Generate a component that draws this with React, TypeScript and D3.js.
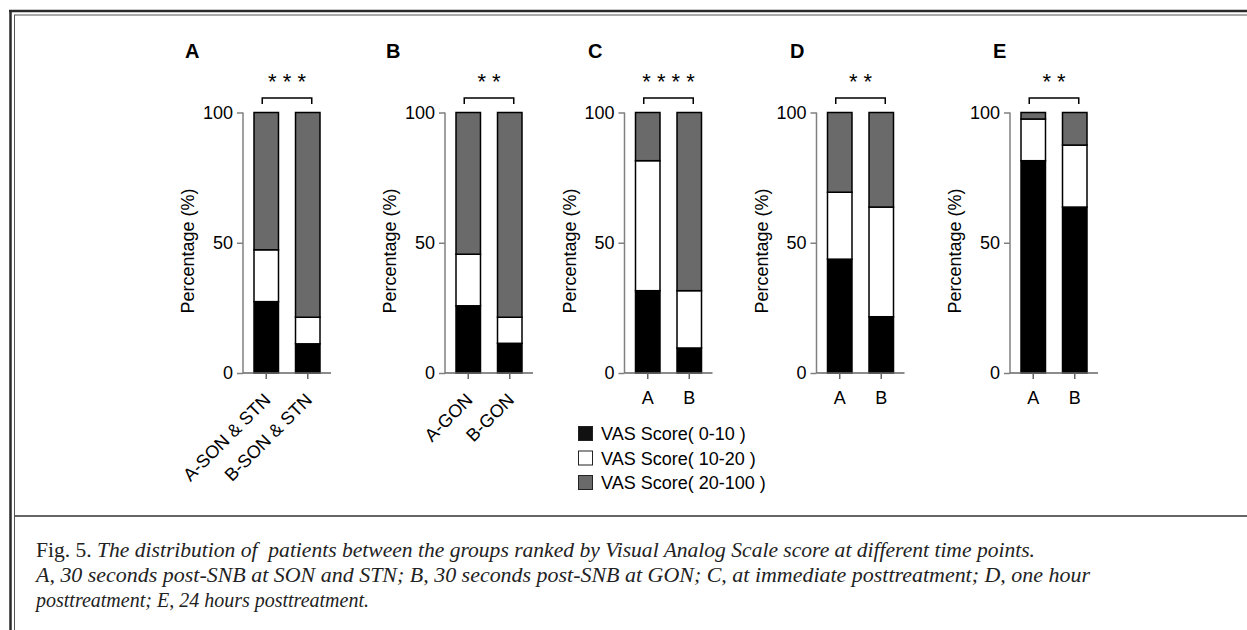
import React, { useEffect, useRef } from 'react';
import * as d3 from 'd3';

// chart data
const panelLetters = ['A', 'B', 'C', 'D', 'E'];
const groupLabels = [
  ['A-SON & STN', 'B-SON & STN'],
  ['A-GON', 'B-GON'],
  ['A', 'B'],
  ['A', 'B'],
  ['A', 'B'],
];
const seriesNames = ['VAS Score( 0-10 )', 'VAS Score( 10-20 )', 'VAS Score( 20-100 )'];
const score0to10 = [[27.4, 11.2], [25.8, 11.4], [31.6, 9.6], [43.7, 21.6], [81.5, 63.7]];
const score10to20 = [[19.9, 10.2], [19.8, 10.0], [49.9, 22.0], [25.7, 42.1], [16.0, 23.8]];
const score20to100 = [[52.7, 78.6], [54.4, 78.6], [18.5, 68.4], [30.6, 36.3], [2.5, 12.5]];
const significance = ['***', '**', '****', '**', '**'];
const yTicks = [0, 50, 100];

const captionLines = [
  { plain: 'Fig. 5. ', italic: 'The distribution of  patients between the groups ranked by Visual Analog Scale score at different time points.', width: 999 },
  { plain: '', italic: 'A, 30 seconds post-SNB at SON and STN; B, 30 seconds post-SNB at GON; C, at immediate posttreatment; D, one hour', width: 1054 },
  { plain: '', italic: 'posttreatment; E, 24 hours posttreatment.', width: 0 },
];

const App = () => {
  const svgRef = useRef(null);

  useEffect(() => {
    const svg = d3.select(svgRef.current);
    const sans = 'Liberation Sans, Arial, sans-serif';
    const colors = ['#000000', '#ffffff', '#6a6a6a'];

    // panel layout
    const axisX = [243, 445, 624.5, 816.5, 1010];
    const letterX = [185, 386, 588, 790, 993];
    const panelW = 88;
    const top = 112.5;
    const bottom = 373;

    const y = d3.scaleLinear().domain([0, 100]).range([bottom, top]);

    // frame
    svg.append('rect').attr('width', 1247).attr('height', 630).attr('fill', '#fff');
    svg.append('line').attr('x1', 9).attr('x2', 1247).attr('y1', 11).attr('y2', 11)
      .attr('stroke', '#2a2a2a').attr('stroke-width', 2.5);
    svg.append('line').attr('x1', 14).attr('x2', 1247).attr('y1', 15).attr('y2', 15)
      .attr('stroke', '#555').attr('stroke-width', 1);
    svg.append('line').attr('x1', 10.5).attr('x2', 10.5).attr('y1', 10).attr('y2', 630)
      .attr('stroke', '#2a2a2a').attr('stroke-width', 2.5);
    svg.append('line').attr('x1', 14.5).attr('x2', 14.5).attr('y1', 15).attr('y2', 630)
      .attr('stroke', '#555').attr('stroke-width', 1);
    svg.append('line').attr('x1', 15).attr('x2', 1247).attr('y1', 516).attr('y2', 516)
      .attr('stroke', '#666').attr('stroke-width', 2);

    const stack = d3.stack().keys(['s0', 's1', 's2']);

    panelLetters.forEach((letter, p) => {
      const g = svg.append('g').attr('transform', `translate(${axisX[p]},0)`);
      const cats = groupLabels[p];
      const x = d3.scaleBand().domain(cats).range([0, panelW]).paddingInner(0.41).paddingOuter(0.265);

      const rows = cats.map((c, i) => ({
        cat: c,
        s0: score0to10[p][i],
        s1: score10to20[p][i],
        s2: score20to100[p][i],
      }));
      const stacked = stack(rows);

      stacked.forEach((layer, k) => {
        g.selectAll(null)
          .data(layer)
          .enter()
          .append('rect')
          .attr('x', (d) => x(d.data.cat))
          .attr('y', (d) => y(d[1]))
          .attr('width', x.bandwidth())
          .attr('height', (d) => y(d[0]) - y(d[1]))
          .attr('fill', colors[k])
          .attr('stroke', '#000')
          .attr('stroke-width', 1.5);
      });

      // y axis
      const ya = g.append('g').call(d3.axisLeft(y).tickValues(yTicks).tickSize(6).tickPadding(4));
      ya.select('.domain').attr('stroke', '#808080').attr('stroke-width', 1.5)
        .attr('d', `M0,${y(100)}V${y(0)}`);
      ya.selectAll('.tick line').attr('stroke', '#808080').attr('stroke-width', 1.5);
      ya.selectAll('.tick text').attr('font-family', sans).attr('font-size', 18).attr('fill', '#000');

      // x axis
      const xa = g.append('g').attr('transform', `translate(0,${bottom})`)
        .call(d3.axisBottom(x).tickSize(6).tickPadding(6));
      xa.select('.domain').attr('stroke', '#666').attr('stroke-width', 1.5)
        .attr('d', `M0,0H${panelW}`);
      xa.selectAll('.tick line').attr('stroke', '#666').attr('stroke-width', 1.5);
      if (p < 2) {
        xa.selectAll('.tick text').remove();
        xa.selectAll('.tick').append('text')
          .attr('transform', 'translate(5.5,28) rotate(-45)')
          .attr('text-anchor', 'end')
          .attr('font-family', sans).attr('font-size', 18).attr('fill', '#000')
          .text((d) => d);
      } else {
        xa.selectAll('.tick text').attr('font-family', sans).attr('font-size', 18)
          .attr('fill', '#000').attr('dy', '1.05em');
      }

      // y label
      g.append('text')
        .attr('transform', `translate(-49,251) rotate(-90)`)
        .attr('text-anchor', 'middle')
        .attr('font-family', sans).attr('font-size', 18)
        .text('Percentage (%)');

      // significance bracket
      const c0 = x(cats[0]) + x.bandwidth() / 2 - 4;
      const c1 = x(cats[1]) + x.bandwidth() / 2 + 4;
      g.append('path')
        .attr('d', `M${c0},104V98H${c1}V104`)
        .attr('fill', 'none').attr('stroke', '#000').attr('stroke-width', 1.5);
      g.append('text')
        .attr('x', (c0 + c1) / 2).attr('y', 89)
        .attr('text-anchor', 'middle')
        .attr('font-family', sans).attr('font-size', 22)
        .text(significance[p].split('').join(' '));

      // panel letter
      svg.append('text')
        .attr('x', letterX[p]).attr('y', 58)
        .attr('font-family', sans).attr('font-size', 20).attr('font-weight', 'bold')
        .text(letter);
    });

    // legend
    const lg = svg.append('g').attr('transform', 'translate(578,426)');
    seriesNames.forEach((name, i) => {
      lg.append('rect').attr('x', 0.5).attr('y', i * 24.5 + 0.5).attr('width', 14).attr('height', 14)
        .attr('fill', i === 0 ? '#111' : colors[i]).attr('stroke', '#222').attr('stroke-width', 1);
      lg.append('text').attr('x', 23).attr('y', i * 24.5 + 14)
        .attr('font-family', sans).attr('font-size', 18).text(name);
    });

    // caption
    captionLines.forEach((line, i) => {
      const t = svg.append('text')
        .attr('x', 36).attr('y', 557 + i * 25)
        .attr('font-family', 'Liberation Serif, Times New Roman, serif')
        .attr('font-size', 20).attr('fill', '#222')
        .style('white-space', 'pre');
      if (line.width) t.attr('textLength', line.width).attr('lengthAdjust', 'spacingAndGlyphs');
      if (line.plain) t.append('tspan').text(line.plain);
      t.append('tspan').attr('font-style', 'italic').text(line.italic);
    });

    return () => {
      svg.selectAll('*').remove();
    };
  }, []);

  return (
    <svg
      ref={svgRef}
      width={1247}
      height={630}
      style={{ position: 'absolute', left: 0, top: 0 }}
    ></svg>
  );
};

export default App;
